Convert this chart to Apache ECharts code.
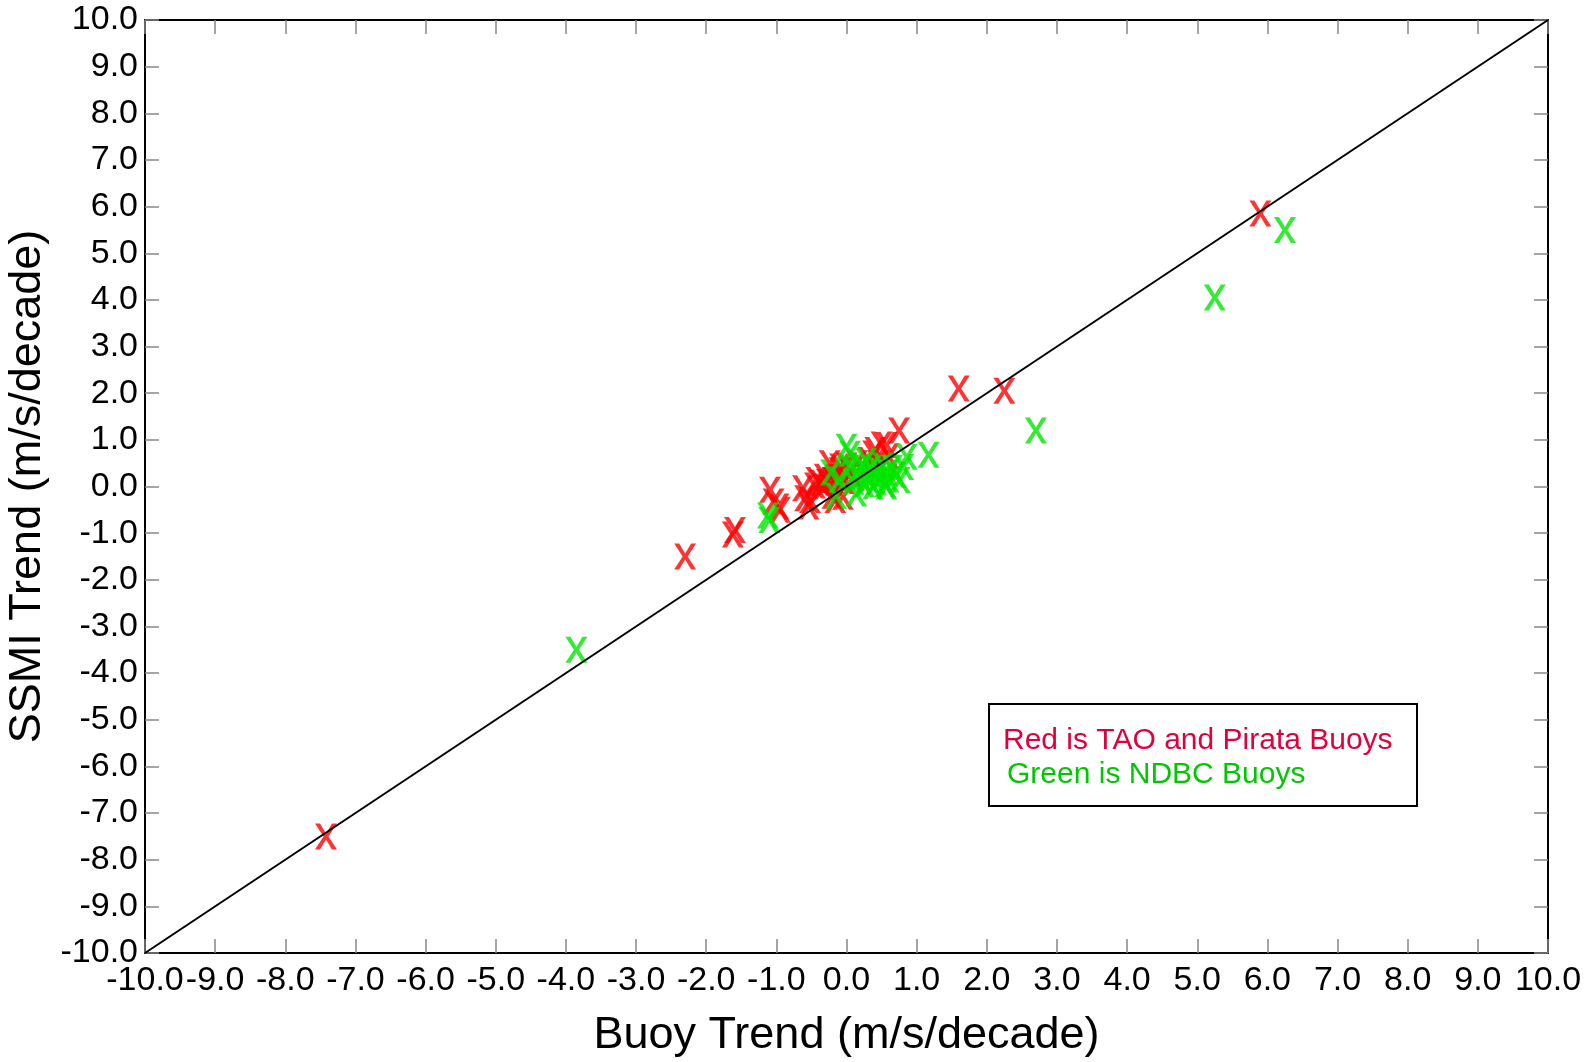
<!DOCTYPE html>
<html>
<head>
<meta charset="utf-8">
<script src="https://cdn.jsdelivr.net/npm/echarts@6/dist/echarts.min.js"></script>
<style>
  html, body { margin: 0; padding: 0; background: #fff; }
  #chart { width: 1593px; height: 1062px; }
</style>
</head>
<body>
<div id="chart"></div>
<script>
    // TAO / Pirata buoys (red)
    var taoPoints = [
        [-7.42, -7.5], [-2.3, -1.5], [-1.62, -1.03], [-1.59, -0.93],
        [-1.09, -0.07], [-1.04, -0.32], [-0.95, -0.5], [-0.97, -0.43],
        [-0.62, -0.04], [-0.59, -0.25], [-0.54, -0.43], [-0.52, -0.29],
        [-0.45, 0.02], [-0.43, 0.14], [-0.38, 0.08], [-0.33, 0.0],
        [-0.31, 0.21], [-0.28, 0.1], [-0.24, 0.5], [-0.19, 0.14],
        [-0.2, -0.2], [-0.16, -0.29], [-0.15, 0.2], [-0.1, 0.35],
        [-0.09, 0.43], [-0.05, -0.22], [-0.04, 0.12], [0.0, 0.45],
        [0.05, 0.3], [0.1, 0.2], [0.15, 0.5], [0.2, 0.4],
        [0.25, 0.3], [0.31, 0.57], [0.38, 0.71], [0.41, 0.78],
        [0.45, 0.5], [0.5, 0.9], [0.57, 0.89], [0.6, 0.65],
        [0.75, 1.2], [1.6, 2.1], [2.25, 2.05], [5.9, 5.85]
    ];
    // NDBC buoys (green)
    var ndbcPoints = [
        [-3.85, -3.5], [-1.12, -0.62], [-1.1, -0.72], [-0.22, 0.3],
        [-0.15, -0.2], [-0.1, 0.15], [0.0, 0.85], [0.05, 0.7],
        [0.05, 0.4], [0.1, 0.1], [0.14, -0.15], [0.15, 0.3],
        [0.2, 0.2], [0.22, 0.45], [0.25, 0.05], [0.28, 0.55],
        [0.3, 0.3], [0.32, 0.15], [0.35, 0.4], [0.38, 0.0],
        [0.4, 0.25], [0.42, 0.1], [0.45, 0.35], [0.5, 0.2],
        [0.52, 0.45], [0.55, 0.05], [0.57, 0.0], [0.58, 0.3],
        [0.6, 0.15], [0.65, 0.4], [0.7, 0.25], [0.76, 0.14],
        [0.81, 0.42], [0.86, 0.64], [1.17, 0.68], [2.7, 1.2],
        [5.25, 4.05], [6.25, 5.5]
    ];
    var oneToOne = [[-10, -10], [10, 10]];
    var legendLines = ['Red is TAO and Pirata Buoys', 'Green is NDBC Buoys'];

    var xMark = 'path://M0 0 L5 0 L11 10 L17 0 L22 0 L13.5 13 L22 26 L17 26 L11 16 L5 26 L0 26 L8.5 13 Z';
    var font = '"Liberation Sans", Arial, sans-serif';

    function axisBase(extra) {
        var a = {
            type: 'value',
            min: -10,
            max: 10,
            interval: 1,
            splitLine: { show: false },
            axisLine: { show: true, onZero: false, lineStyle: { color: '#000', width: 2 } },
            axisTick: { show: true, inside: true, length: 14, lineStyle: { color: '#888', width: 1.5 } },
            axisLabel: { show: false }
        };
        for (var k in extra) a[k] = extra[k];
        return a;
    }

    var chart = echarts.init(document.getElementById('chart'));
    chart.setOption({
        backgroundColor: '#fff',
        animation: false,
        textStyle: { fontFamily: font },
        grid: {
            left: 145, right: 45, top: 20, bottom: 109,
            containLabel: false,
            outerBoundsMode: 'none'
        },
        xAxis: [
            axisBase({
                position: 'bottom',
                name: 'Buoy Trend (m/s/decade)',
                nameLocation: 'middle',
                nameGap: 60,
                nameTextStyle: { fontSize: 45, color: '#000', fontFamily: font },
                axisLabel: {
                    show: true, fontSize: 34, color: '#000', margin: 11, fontFamily: font,
                    formatter: function (v) { return v.toFixed(1); }
                }
            }),
            axisBase({ position: 'top' })
        ],
        yAxis: [
            axisBase({
                position: 'left',
                name: 'SSMI Trend (m/s/decade)',
                nameLocation: 'middle',
                nameGap: 86,
                nameTextStyle: { fontSize: 45, color: '#000', fontFamily: font },
                axisLabel: {
                    show: true, fontSize: 34, color: '#000', margin: 7, fontFamily: font,
                    formatter: function (v) { return v.toFixed(1); }
                }
            }),
            axisBase({ position: 'right' })
        ],
        graphic: [{
            type: 'group',
            left: 988,
            top: 703,
            children: [{
                type: 'rect',
                shape: { x: 0, y: 0, width: 428, height: 102 },
                style: { fill: '#fff', stroke: '#000', lineWidth: 2 }
            }, {
                type: 'text',
                x: 14, y: 37,
                style: {
                    text: legendLines[0], fill: '#e0003c',
                    font: '30px ' + font, verticalAlign: 'middle'
                }
            }, {
                type: 'text',
                x: 18, y: 71,
                style: {
                    text: legendLines[1], fill: '#00c800',
                    font: '30px ' + font, verticalAlign: 'middle'
                }
            }]
        }],
        series: [{
            name: 'TAO',
            type: 'scatter',
            data: taoPoints,
            symbol: xMark,
            symbolSize: [22, 26],
            itemStyle: { color: '#ff0000' }
        }, {
            name: 'NDBC',
            type: 'scatter',
            data: ndbcPoints,
            symbol: xMark,
            symbolSize: [22, 26],
            itemStyle: { color: '#00e600' }
        }, {
            name: '1:1',
            type: 'line',
            data: oneToOne,
            symbol: 'none',
            z: 5,
            lineStyle: { color: '#000', width: 2 }
        }]
    });
</script>
</body>
</html>
